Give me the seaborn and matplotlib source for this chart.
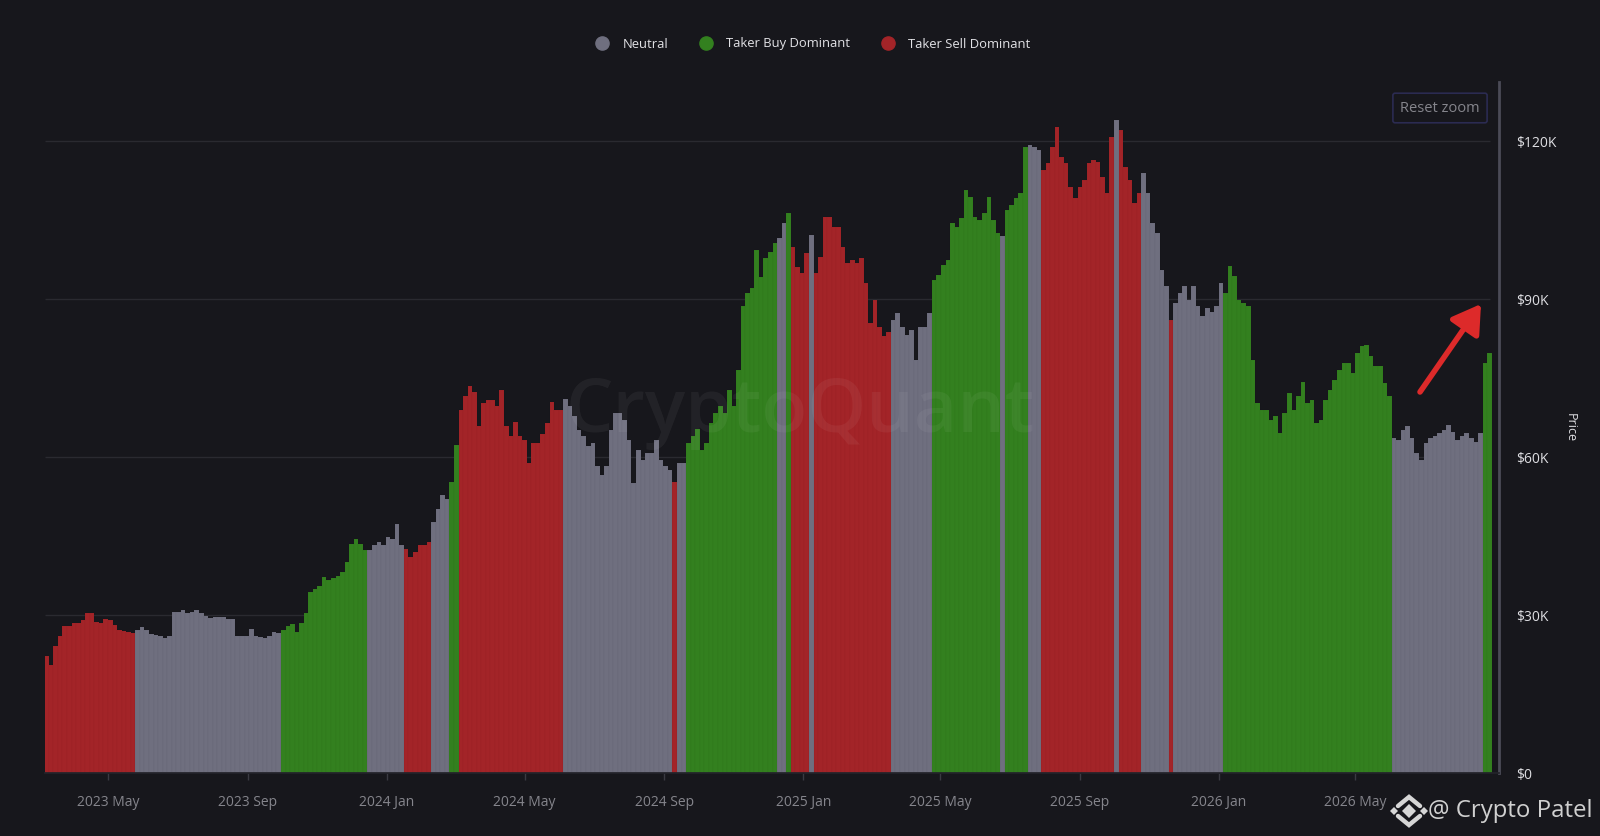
import pandas as pd
import matplotlib
matplotlib.use("Agg")
import matplotlib.pyplot as plt
import matplotlib.dates as mdates
from matplotlib.lines import Line2D
import seaborn as sns

# --- data: price in $K, one bar every 4 days, split in runs of the same regime ---
sell_a = [22.3, 20.5, 24.2, 26.1, 28.0, 28.0, 28.4, 28.4, 29.0, 30.3, 30.3, 28.7, 28.4, 29.3, 29.0, 28.1, 27.1, 26.9, 26.8, 26.6]
neutral_a = [27.1, 27.7, 27.1, 26.4, 26.2, 26.0, 25.6, 26.1, 30.6, 30.6, 30.9, 30.3, 30.6, 30.9, 30.3, 29.9, 29.4, 29.7, 29.7, 29.7, 29.3, 29.3, 26.1, 26.1, 26.1, 27.4, 26.0, 25.8, 25.6, 26.1, 26.8, 26.5]
buy_a = [27.1, 27.9, 28.2, 26.8, 28.4, 30.3, 34.4, 34.9, 35.5, 37.2, 36.6, 37.0, 37.5, 38.2, 40.1, 43.5, 44.4, 43.5, 42.3]
neutral_b = [42.3, 43.2, 43.9, 43.2, 44.8, 44.5, 47.3, 43.2]
sell_b = [42.6, 41.0, 42.0, 43.2, 43.2, 43.9]
neutral_c = [47.7, 50.2, 52.7, 52.1]
buy_b = [55.3, 62.2]
sell_c = [68.9, 71.5, 73.4, 72.4, 65.8, 70.2, 70.8, 70.8, 69.6, 72.7, 65.8, 63.9, 66.7, 63.9, 63.2, 58.8, 62.6, 62.6, 64.4, 66.4, 70.5, 68.9, 68.9]
neutral_d = [71.1, 69.6, 67.7, 65.1, 63.9, 62.0, 62.6, 58.2, 56.6, 58.2, 65.1, 68.3, 68.3, 67.0, 63.2, 55.0, 61.3, 59.4, 60.7, 60.7, 63.2, 59.4, 58.2, 57.6]
sell_d = [55.3]
neutral_e = [58.8, 58.8]
buy_c = [62.6, 63.9, 65.4, 61.3, 62.6, 66.4, 68.3, 69.6, 68.3, 72.7, 69.6, 76.5, 88.6, 91.1, 92.0, 99.3, 94.2, 97.7, 99.0, 100.6]
neutral_f = [101.5, 104.4]
buy_d = [106.3]
sell_e = [99.9, 96.1, 94.9, 98.7]
neutral_g = [102.2]
sell_f = [94.9, 98.0, 105.6, 105.6, 103.7, 103.7, 99.9, 96.8, 97.4, 96.8, 97.7, 93.0, 85.4, 89.8, 84.7, 82.9, 83.8]
neutral_h = [86.0, 87.3, 84.7, 83.2, 84.1, 78.4, 84.7, 84.7, 87.3]
buy_e = [93.6, 94.6, 96.5, 97.4, 104.4, 103.7, 105.3, 110.7, 109.4, 105.6, 105.0, 106.3, 109.4, 105.0, 102.5]
neutral_i = [101.9]
buy_f = [106.9, 107.9, 109.1, 110.1, 118.9]
neutral_j = [119.3, 118.9, 118.3]
sell_g = [114.5, 115.8, 118.9, 122.7, 117.0, 115.8, 111.3, 109.1, 111.3, 112.6, 115.8, 116.4, 116.1, 113.2, 110.1, 120.8]
neutral_k = [124.0]
sell_h = [122.1, 115.1, 112.6, 108.2, 110.1]
neutral_l = [113.9, 110.1, 104.4, 102.5, 95.5, 92.4]
sell_i = [86.0]
neutral_m = [89.2, 91.1, 92.4, 89.8, 92.4, 88.6, 86.7, 88.2, 87.6, 88.6, 93.0]
buy_g = [91.1, 96.2, 94.3, 89.8, 89.2, 88.6, 78.4, 70.2, 68.9, 68.9, 67.0, 67.7, 64.5, 68.3, 72.1, 68.9, 71.5, 74.3, 70.2, 70.8, 66.4, 67.0, 70.8, 72.7, 74.6, 76.5, 77.8, 77.8, 75.9, 79.7, 81.0, 81.3, 79.1, 77.2, 77.2, 74.0, 71.5]
neutral_n = [63.6, 63.2, 65.1, 65.8, 63.6, 60.7, 59.4, 62.6, 63.6, 63.9, 64.5, 65.1, 66.1, 64.8, 63.2, 63.9, 64.5, 63.6, 62.9, 64.5]
buy_h = [77.8, 79.7]

NEUTRAL, BUY, SELL = "Neutral", "Taker Buy Dominant", "Taker Sell Dominant"
runs = [
    (SELL, sell_a), (NEUTRAL, neutral_a), (BUY, buy_a), (NEUTRAL, neutral_b), (SELL, sell_b),
    (NEUTRAL, neutral_c), (BUY, buy_b), (SELL, sell_c), (NEUTRAL, neutral_d), (SELL, sell_d),
    (NEUTRAL, neutral_e), (BUY, buy_c), (NEUTRAL, neutral_f), (BUY, buy_d), (SELL, sell_e),
    (NEUTRAL, neutral_g), (SELL, sell_f), (NEUTRAL, neutral_h), (BUY, buy_e), (NEUTRAL, neutral_i),
    (BUY, buy_f), (NEUTRAL, neutral_j), (SELL, sell_g), (NEUTRAL, neutral_k), (SELL, sell_h),
    (NEUTRAL, neutral_l), (SELL, sell_i), (NEUTRAL, neutral_m), (BUY, buy_g), (NEUTRAL, neutral_n),
    (BUY, buy_h),
]
tick_months = ["2023-05-01", "2023-09-01", "2024-01-01", "2024-05-01", "2024-09-01",
               "2025-01-01", "2025-05-01", "2025-09-01", "2026-01-01", "2026-05-01"]
price_ticks = [0, 30, 60, 90, 120]

prices = [p for _, vals in runs for p in vals]
regimes = [r for r, vals in runs for _ in vals]
dates = pd.date_range("2023-03-08", periods=len(prices), freq="4D")
df = pd.DataFrame({"date": mdates.date2num(dates), "price": prices, "regime": regimes})

# --- style ---
BG = "#17171c"
colors = {NEUTRAL: "#6f6f7f", BUY: "#33801f", SELL: "#a32428"}
sns.set_theme(style="dark")
plt.rcParams["font.family"] = ["Open Sans", "DejaVu Sans"]

W, H = 1600, 836
fig = plt.figure(figsize=(W / 100, H / 100), dpi=100, facecolor=BG)
ax = fig.add_axes([45 / W, 1 - 773 / H, (1499 - 45) / W, (773 - 82) / H], facecolor=BG)


def fx(px):
    return px / W


def fy(py):
    return 1 - py / H


# gridlines under the bars
px_per_day = 1.138
x0 = mdates.date2num(pd.Timestamp(tick_months[0]))
xmin, xmax = x0 + (45 - 108) / px_per_day, x0 + (1499 - 108) / px_per_day
ax.hlines(price_ticks[1:], xmin, x0 + (1490 - 108) / px_per_day, color="#2a2a30", lw=1, zorder=0)

sns.barplot(data=df, x="date", y="price", hue="regime", palette=colors, native_scale=True, saturation=1,
            dodge=False, width=1.0, linewidth=0.15, edgecolor=(0, 0, 0, 0.12), legend=False, errorbar=None,
            ax=ax, zorder=2)

ax.set_xlim(xmin, xmax)
ax.set_ylim(0, (773 - 82) / 158 * 30)
ax.grid(False)
ax.set_xlabel("")
ax.set_ylabel("")

ticks = mdates.date2num(pd.to_datetime(tick_months))
ax.set_xticks(ticks)
ax.set_xticklabels([pd.Timestamp(t).strftime("%Y %b") for t in tick_months], fontsize=10, color="#85858c")
ax.tick_params(axis="x", length=5, width=1, color="#3a3a42", pad=11, bottom=True)

ax.yaxis.tick_right()
ax.set_yticks(price_ticks)
ax.set_yticklabels([f"${v}K" if v else "$0" for v in price_ticks], fontsize=10, color="#dedee2")
ax.tick_params(axis="y", length=0, pad=12)

for side in ["top", "left"]:
    ax.spines[side].set_visible(False)
ax.spines["bottom"].set_color("#23232a")
ax.spines["right"].set_color("#4b4b57")
ax.spines["right"].set_linewidth(2)

fig.text(fx(1570), fy(428), "Price", rotation=-90, ha="center", va="center", fontsize=9, color="#dedee2")

# legend
handles = [Line2D([], [], ls="", marker="o", ms=9.5, color=colors[k], label=k) for k in [NEUTRAL, BUY, SELL]]
fig.legend(handles=handles, loc="center", bbox_to_anchor=(fx(810), fy(44)), ncol=3, frameon=False,
           fontsize=9.4, labelcolor="#e2e2e6", columnspacing=1.9, handletextpad=0.55)

# faint site watermark over the bars
fig.text(fx(800), fy(413), "CryptoQuant", ha="center", va="center", fontsize=54, color="#ffffff",
         alpha=0.05, fontweight="semibold", zorder=5)

# reset zoom button
fig.text(fx(1440), fy(108), "Reset zoom", ha="center", va="center", fontsize=10.5, color="#85858c",
         bbox=dict(boxstyle="round,pad=0.5,rounding_size=0.15", fc=BG, ec="#2b2b52", lw=1.2))

# red arrow
ax.annotate("", xy=(fx(1481), fy(304)), xytext=(fx(1420), fy(392)), xycoords="figure fraction",
            textcoords="figure fraction",
            arrowprops=dict(arrowstyle="-|>,head_length=1.3,head_width=0.8", color="#dd2a2a", lw=4,
                            mutation_scale=13, shrinkA=0, shrinkB=0), zorder=6)

# bottom right credit with small exchange logo
logo_c = "#d6d6d6"
lx, ly = 1409, 811
for dx, size in [(0, 7.5), (-15, 4.5), (15, 4.5)]:
    fig.add_artist(Line2D([fx(lx + dx)], [fy(ly)], transform=fig.transFigure, ls="", marker="D",
                          ms=size, color=logo_c, mew=0))
for sign in [-1, 1]:
    fig.add_artist(Line2D([fx(lx - 11), fx(lx), fx(lx + 11)],
                          [fy(ly + sign * 5), fy(ly + sign * 14), fy(ly + sign * 5)],
                          transform=fig.transFigure, color=logo_c, lw=3.2, solid_joinstyle="miter"))
fig.text(fx(1428), fy(811), "@ Crypto Patel", ha="left", va="center", fontsize=17.3, color="#d0d0d0")

fig.savefig("out.png", dpi=100, facecolor=BG)
